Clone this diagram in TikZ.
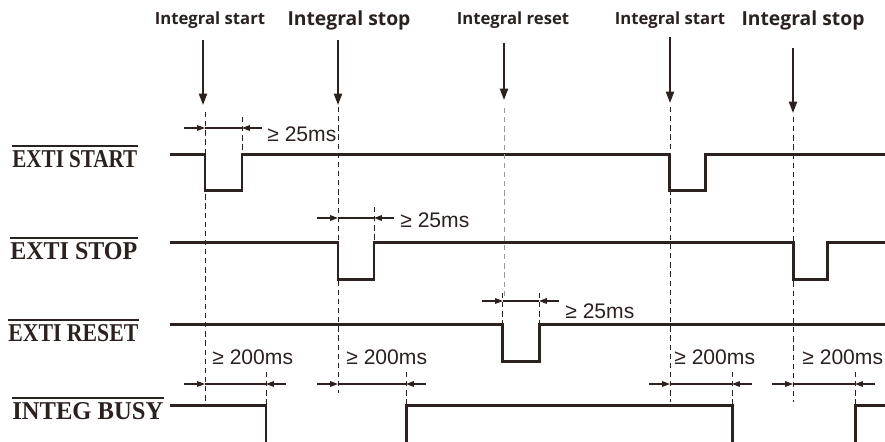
\documentclass[tikz,border=0pt]{standalone}
\usepackage{fontspec}
\setmainfont{Liberation Serif}
\setsansfont{Open Sans}
\newfontfamily\dimfont{Liberation Sans}
\usetikzlibrary{arrows.meta}
\definecolor{sigcol}{HTML}{2B211F}
\definecolor{guidegray}{HTML}{9A9A9A}

\begin{document}
\begin{tikzpicture}[x=0.02cm, y=-0.02cm,
  sig/.style={line width=1.7pt, draw=sigcol, line join=miter},
  ovl/.style={line width=0.85pt, draw=sigcol},
  evarrow/.style={line width=1.1pt, draw=sigcol, fill=sigcol, -{Triangle[length=6.5pt,width=4.6pt]}},
  guide/.style={line width=0.55pt, draw=sigcol, dash pattern=on 3pt off 2.2pt},
  dimarr/.style={line width=0.6pt, draw=sigcol, fill=sigcol, -{Triangle[length=4.5pt,width=3.2pt]}},
  siglbl/.style={anchor=south west, inner sep=0pt, font=\bfseries, text=sigcol},
  evlbl/.style={inner sep=0pt, text=sigcol, font=\sffamily\bfseries\fontsize{#1}{#1}\selectfont},
  dimlbl/.style={anchor=west, inner sep=0pt, text=sigcol, font=\dimfont\fontsize{12}{12}\selectfont}]
  \clip (0,0) rectangle (885,441);

  % signal names with bars
  \foreach \n/\x/\y/\w/\txt in {start/12/168/2.5/EXTI START, stop/10/260/2.54/EXTI STOP,
                                reset/8/342/2.6/EXTI RESET, busy/12/420/3.02/INTEG BUSY} {
    \node[siglbl] (\n) at (\x,\y) {\resizebox{\w cm}{0.34cm}{\txt}};
    \draw[ovl] ([yshift=2.4pt]\n.north west) -- ([yshift=2.4pt]\n.north east);
  }

  % waveforms
  \draw[sig] (170,154) -| (205,190) -| (242,154) -| (669,190) -| (705,154) -- (886,154);
  \draw[sig] (170,242) -| (338,279) -| (374,242) -| (793,279) -| (827,242) -- (886,242);
  \draw[sig] (170,324) -| (502,361) -| (539,324) -- (886,324);
  \draw[sig] (170,405) -| (266,443) -| (406,405) -| (732,443) -| (855,405) -- (886,405);

  % events on top
  \foreach \x/\ya/\yb/\lx/\sz/\txt [count=\i] in
    {203/40/105/210/9.5/Integral start, 338/40/105/349/11/Integral stop,
     504/43/100/513/9.5/Integral reset, 670/37/103/670/9.5/Integral start,
     793/48/113/803/11/Integral stop} {
    \node[evlbl=\sz] (ev\i) at (\lx,20) {\txt};
    \draw[evarrow] (\x,\ya) -- (\x,\yb);
  }

  % guide lines
  \foreach \x/\ya/\yb in {205/112/402, 338/107/393, 670/107/402, 793/117/402}
    \draw[guide] (\x,\ya) -- (\x,\yb);
  \draw[guide, draw=guidegray, line width=0.45pt] (504,108) -- (504,296);
  \draw[guide] (502,293) -- (502,324);
  \foreach \x/\ya/\yb in {242/117/154, 374/207/242, 539/293/324,
                          266/372/405, 406/372/405, 732/372/405, 855/372/405}
    \draw[guide] (\x,\ya) -- (\x,\yb);

  % minimum widths
  \foreach \a/\b/\y in {205/242/128, 338/374/218, 503/539/301,
                        205/266/384, 338/406/384, 670/732/384, 793/855/384} {
    \draw[dimarr] ({\a-21},\y) -- (\a,\y);
    \draw[dimarr] ({\b+20},\y) -- (\b,\y);
    \draw[line width=0.6pt, draw=sigcol] (\a,\y) -- (\b,\y);
  }
  \foreach \x/\y/\txt [count=\i] in
    {267/134/{≥ 25ms}, 400/220/{≥ 25ms}, 565/311/{≥ 25ms},
     212/357/{≥ 200ms}, 346/357/{≥ 200ms}, 674/357/{≥ 200ms}, 802/357/{≥ 200ms}}
    \node[dimlbl] (w\i) at (\x,\y) {\txt};
\end{tikzpicture}
\end{document}
